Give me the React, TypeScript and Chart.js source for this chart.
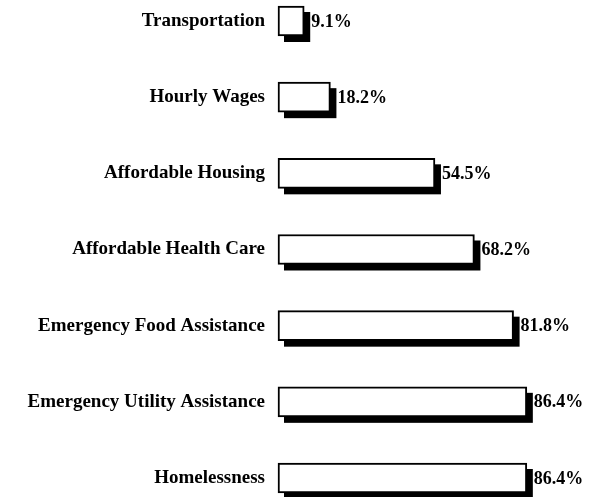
import React, { useEffect, useRef } from "react";
import { Chart, registerables } from "chart.js";

Chart.register(...registerables);

const categories = [
  "Transportation",
  "Hourly Wages",
  "Affordable Housing",
  "Affordable Health Care",
  "Emergency Food Assistance",
  "Emergency Utility Assistance",
  "Homelessness",
];
const values = [9.1, 18.2, 54.5, 68.2, 81.8, 86.4, 86.4];

const FONT = "'Liberation Serif', 'Times New Roman', serif";
const SHADOW = 6;

const shadowPlugin = {
  id: "barShadow",
  beforeDatasetsDraw(chart: any) {
    const ctx = chart.ctx;
    const meta = chart.getDatasetMeta(0);
    ctx.save();
    ctx.fillStyle = "#000";
    meta.data.forEach((el: any) => {
      const left = Math.min(el.base, el.x);
      const w = Math.abs(el.x - el.base);
      ctx.fillRect(left + SHADOW, el.y - el.height / 2 + SHADOW, w, el.height);
    });
    ctx.restore();
  },
  afterDatasetsDraw(chart: any) {
    const ctx = chart.ctx;
    const meta = chart.getDatasetMeta(0);
    const data = chart.data.datasets[0].data as number[];
    ctx.save();
    ctx.fillStyle = "#000";
    ctx.font = `bold 18px ${FONT}`;
    ctx.textAlign = "left";
    ctx.textBaseline = "middle";
    meta.data.forEach((el: any, i: number) => {
      ctx.fillText(data[i].toFixed(1) + "%", el.x + 7, el.y + 1);
    });
    ctx.restore();
  },
};

export default function App() {
  const ref = useRef<HTMLCanvasElement>(null);
  useEffect(() => {
    if (!ref.current) return;
    const chart = new Chart(ref.current, {
      type: "bar",
      data: {
        labels: categories,
        datasets: [
          {
            data: values,
            backgroundColor: "#fff",
            borderColor: "#000",
            borderWidth: 2,
            borderSkipped: false,
            barThickness: 30,
            clip: false as any,
          },
        ],
      },
      options: {
        indexAxis: "y",
        responsive: false,
        animation: false,
        layout: { padding: { top: 21, bottom: 19, right: 27, left: 0 } },
        plugins: { legend: { display: false }, tooltip: { enabled: false } },
        scales: {
          x: { display: false, min: 0, max: 100 },
          y: {
            offset: false,
            grid: { display: false, drawTicks: false },
            border: { display: false },
            ticks: {
              color: "#000",
              padding: 13,
              font: { family: FONT, size: 19, weight: "bold" },
            },
            afterFit: (s: any) => {
              s.width = 278;
              s.paddingTop = 0;
              s.paddingBottom = 0;
            },
          },
        },
      },
      plugins: [shadowPlugin],
    });
    return () => chart.destroy();
  }, []);
  return (
    <div style={{ position: "absolute", left: 0, top: 0, width: 593, height: 497, background: "#fff" }}>
      <canvas ref={ref} width={593} height={497} />
    </div>
  );
}
